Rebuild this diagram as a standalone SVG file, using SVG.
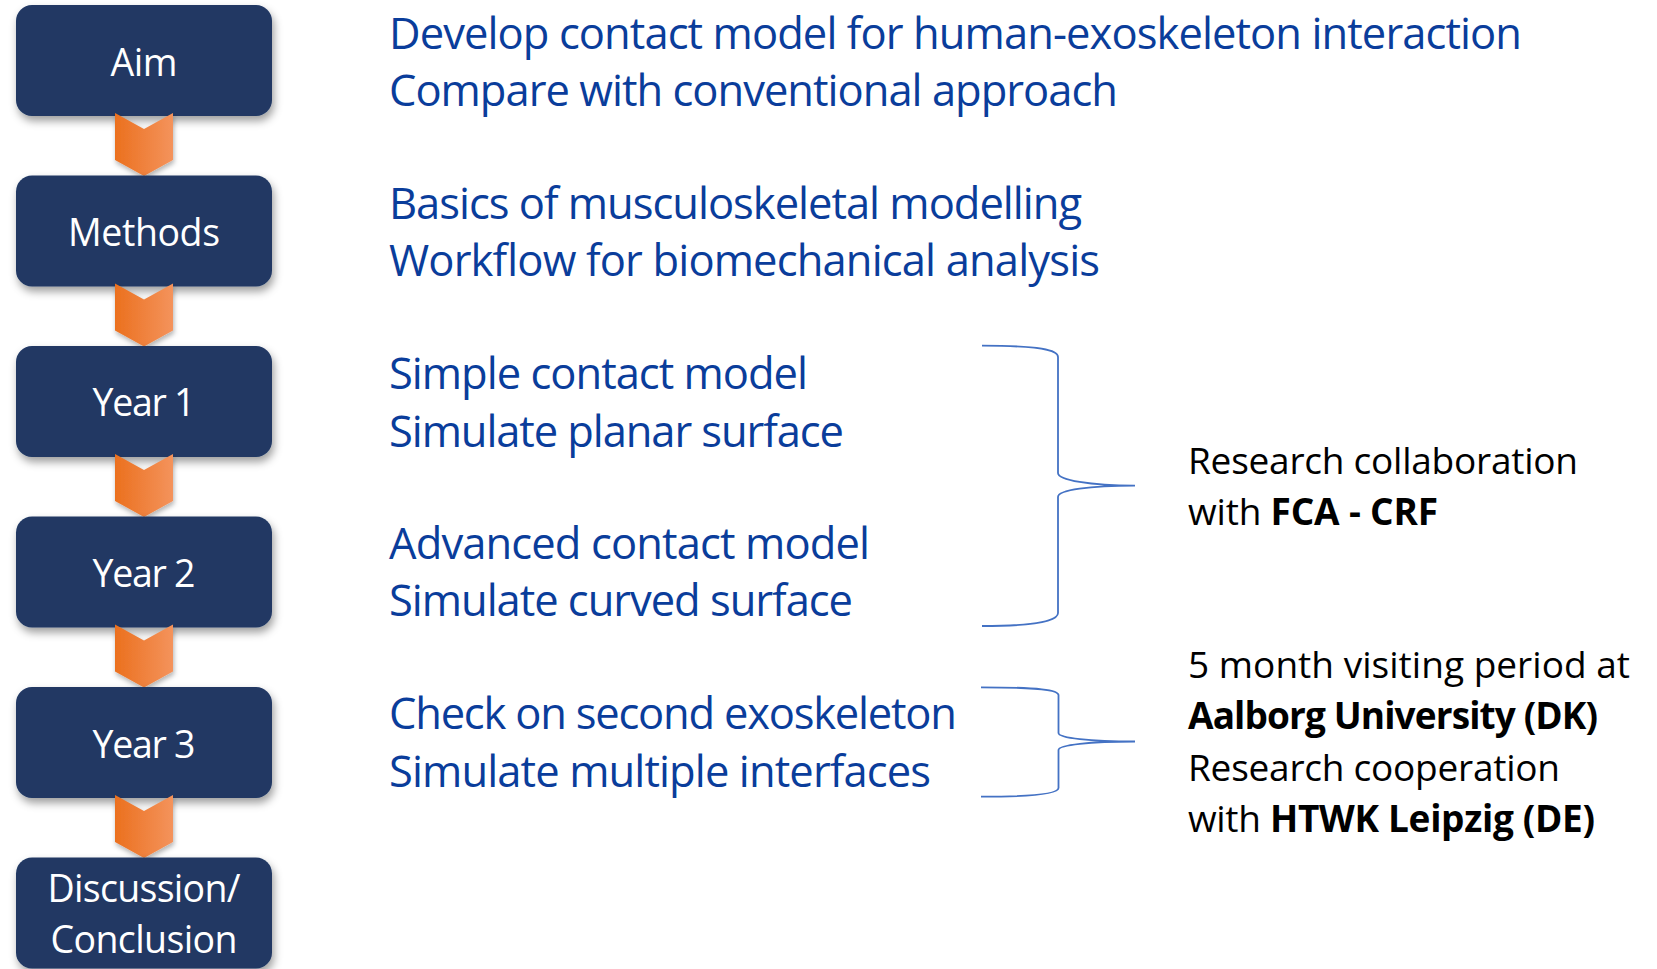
<svg xmlns="http://www.w3.org/2000/svg" width="1657" height="969" viewBox="0 0 1657 969">
<defs>
<linearGradient id="og" x1="0" y1="0" x2="1" y2="0">
<stop offset="0" stop-color="#EB701E"/>
<stop offset="1" stop-color="#F4935C"/>
</linearGradient>
<filter id="sh" x="-20%" y="-20%" width="140%" height="150%">
<feDropShadow dx="2" dy="5" stdDeviation="4" flood-color="#000" flood-opacity="0.38"/>
</filter>
<filter id="sh2" x="-30%" y="-30%" width="160%" height="160%">
<feDropShadow dx="1" dy="3" stdDeviation="2.5" flood-color="#000" flood-opacity="0.3"/>
</filter>
</defs>
<style>
.box{fill:#203864;filter:url(#sh)}
.chev{fill:url(#og);filter:url(#sh2)}
.bt{font-family:"Open Sans","Liberation Sans",sans-serif;font-size:37.5px;fill:#fff;text-anchor:middle}
.blue{font-family:"Open Sans","Liberation Sans",sans-serif;font-size:43.5px;fill:#0A3D9B}
.blk{font-family:"Open Sans","Liberation Sans",sans-serif;font-size:37px;fill:#000}
.b{font-weight:bold}
.br{fill:none;stroke:#4472C4;stroke-width:1.8}
</style>
<rect width="1657" height="969" fill="#fff"/>

<g id="n-aim"><rect class="box" x="16" y="5" width="256" height="111" rx="16"/><text class="bt" x="144" y="76" textLength="67">Aim</text></g>
<g id="c1"><polygon class="chev" points="115,113 144,129 173,113 173,160 144,176 115,160"/></g>
<g id="n-methods"><rect class="box" x="16" y="175.5" width="256" height="111" rx="16"/><text class="bt" x="144" y="246" textLength="152">Methods</text></g>
<g id="c2"><polygon class="chev" points="115,283.5 144,299.5 173,283.5 173,330.5 144,346.5 115,330.5"/></g>
<g id="n-year1"><rect class="box" x="16" y="346" width="256" height="111" rx="16"/><text class="bt" x="144" y="416" textLength="103">Year 1</text></g>
<g id="c3"><polygon class="chev" points="115,454 144,470 173,454 173,501 144,517 115,501"/></g>
<g id="n-year2"><rect class="box" x="16" y="516.5" width="256" height="111" rx="16"/><text class="bt" x="144" y="587" textLength="103">Year 2</text></g>
<g id="c4"><polygon class="chev" points="115,624.5 144,640.5 173,624.5 173,671.5 144,687.5 115,671.5"/></g>
<g id="n-year3"><rect class="box" x="16" y="687" width="256" height="111" rx="16"/><text class="bt" x="144" y="757.5" textLength="103">Year 3</text></g>
<g id="c5"><polygon class="chev" points="115,795 144,811 173,795 173,842 144,858 115,842"/></g>
<g id="n-disc"><rect class="box" x="16" y="857.5" width="256" height="111" rx="16"/><text class="bt" x="144" y="902" textLength="193">Discussion/</text><text class="bt" x="144" y="953" textLength="187">Conclusion</text></g>

<g id="t-aim">
<text class="blue" x="389" y="49" textLength="1133">Develop contact model for human-exoskeleton interaction</text>
<text class="blue" x="389" y="106" textLength="729">Compare with conventional approach</text>
</g>
<g id="t-methods">
<text class="blue" x="389" y="219" textLength="693">Basics of musculoskeletal modelling</text>
<text class="blue" x="389" y="276" textLength="711">Workflow for biomechanical analysis</text>
</g>
<g id="t-year1">
<text class="blue" x="389" y="389" textLength="419">Simple contact model</text>
<text class="blue" x="389" y="446.5" textLength="455">Simulate planar surface</text>
</g>
<g id="t-year2">
<text class="blue" x="389" y="558.5" textLength="481">Advanced contact model</text>
<text class="blue" x="389" y="616" textLength="464">Simulate curved surface</text>
</g>
<g id="t-year3">
<text class="blue" x="389" y="729" textLength="568">Check on second exoskeleton</text>
<text class="blue" x="389" y="786.5" textLength="542">Simulate multiple interfaces</text>
</g>

<g id="connectors">
<path class="br" d="M982,345.7 C1040,345.7 1058,350 1058,357 L1058,473 C1058,480 1090,485.7 1135,485.7 C1090,485.7 1058,490 1058,497 L1058,613 C1058,620 1040,626 982,626"/>
<path class="br" d="M981,687.3 C1040,687.3 1058.5,690 1058.5,695 L1058.5,733 C1058.5,738 1090,741.5 1135,741.5 C1090,741.5 1058.5,745 1058.5,750 L1058.5,788 C1058.5,793 1040,796.7 981,796.7"/>
</g>

<g id="t-fca">
<text class="blk" x="1188" y="473.5" textLength="390">Research collaboration</text>
<text class="blk" x="1188" y="524.5" textLength="250">with <tspan class="b">FCA - CRF</tspan></text>
</g>
<g id="t-aalborg">
<text class="blk" x="1188" y="677.5" textLength="442">5 month visiting period at</text>
<text class="blk b" x="1188" y="729" textLength="410">Aalborg University (DK)</text>
<text class="blk" x="1188" y="780.5" textLength="372">Research cooperation</text>
<text class="blk" x="1188" y="831.5" textLength="407">with <tspan class="b">HTWK Leipzig (DE)</tspan></text>
</g>
</svg>
